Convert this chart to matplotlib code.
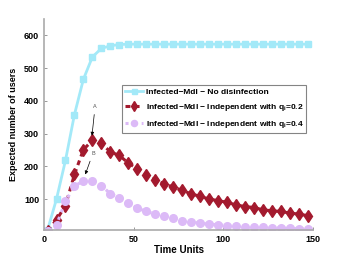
import numpy as np
import matplotlib
matplotlib.use("Agg")
import matplotlib.pyplot as plt

# ---------- data ----------
t = np.arange(2, 148, 5)

no_disinf = [5, 100, 218, 358, 466, 534, 560, 568, 572, 573,
             573, 573, 573, 573, 573, 573, 573, 573, 573, 573,
             573, 573, 573, 573, 573, 573, 573, 573, 573, 573]

indep_02 = [3, 36, 80, 175, 251, 279, 270, 244, 233, 210,
            192, 174, 159, 146, 137, 126, 116, 108, 100, 95,
            90, 82, 77, 74, 67, 64, 62, 57, 54, 49]

indep_04 = [3, 21, 93, 139, 156, 154, 141, 116, 103, 88,
            72, 62, 54, 47, 42, 34, 30, 26, 23, 21,
            19, 17, 15, 14, 13, 12, 11, 10, 9, 8]

labels = ["Infected\u2212Mdl \u2212 No disinfection",
          "Infected\u2212Mdl \u2212 Independent with q$_\\mathregular{i}$=0.2",
          "Infected\u2212Mdl \u2212 Independent with q$_\\mathregular{i}$=0.4"]

c_cyan = "#a3e9f8"
c_red = "#a31a2e"
c_purp = "#dcbaf7"

plt.rcParams['font.family'] = ['Liberation Sans', 'DejaVu Sans']
plt.rcParams['font.weight'] = 'bold'

fig = plt.figure(figsize=(3.46, 2.6), dpi=100)
ax = fig.add_axes([0.127, 0.115, 0.778, 0.812])

ax.plot(t, no_disinf, '-', color=c_cyan, lw=2.0, marker='s', ms=4.5,
        mec=c_cyan, mfc=c_cyan, label=labels[0])
ax.plot(t, indep_02, '--', color=c_red, lw=2.2, dashes=(1.6, 1.4), marker='d',
        ms=6.5, mec=c_red, mfc=c_red, label=labels[1])
ax.plot(t, indep_04, ':', color=c_purp, lw=2.2, marker='o', ms=5.5,
        mec=c_purp, mfc=c_purp, label=labels[2])

ax.annotate("A", xy=(26.6, 285), xytext=(28.5, 375), fontsize=4, fontweight='normal',
            color='#555555', ha='center', va='bottom',
            arrowprops=dict(arrowstyle='-|>', color='black', lw=0.5, mutation_scale=5))
ax.annotate("B", xy=(22.5, 167), xytext=(27.3, 232), fontsize=4, fontweight='normal',
            color='#555555', ha='center', va='bottom',
            arrowprops=dict(arrowstyle='-|>', color='black', lw=0.5, mutation_scale=5))

ax.set_xlim(0, 150)
ax.set_ylim(5, 650)
ax.set_xticks([0, 50, 100, 150])
ax.set_yticks([100, 200, 300, 400, 500, 600])
ax.tick_params(direction='in', length=2.5, labelsize=6.5, colors='black', width=0.6)
for s in ['top', 'right']:
    ax.spines[s].set_visible(False)
for s in ['left', 'bottom']:
    ax.spines[s].set_color('#aaaaaa')
    ax.spines[s].set_linewidth(1.2)
ax.tick_params(axis='both', color='#888888')

ax.set_xlabel("Time Units", fontsize=7, fontweight='bold', labelpad=1)
ax.set_ylabel("Expected number of users", fontsize=6.5, fontweight='bold', labelpad=4)

leg = ax.legend(loc='upper left', bbox_to_anchor=(0.29, 0.687), fontsize=6.0,
                frameon=True, fancybox=False, edgecolor='#666666',
                handlelength=2.2, handletextpad=0.3, borderpad=0.35,
                labelspacing=0.75, borderaxespad=0, markerscale=0.8)
leg.get_frame().set_linewidth(0.8)

fig.savefig("out.png", dpi=100)
